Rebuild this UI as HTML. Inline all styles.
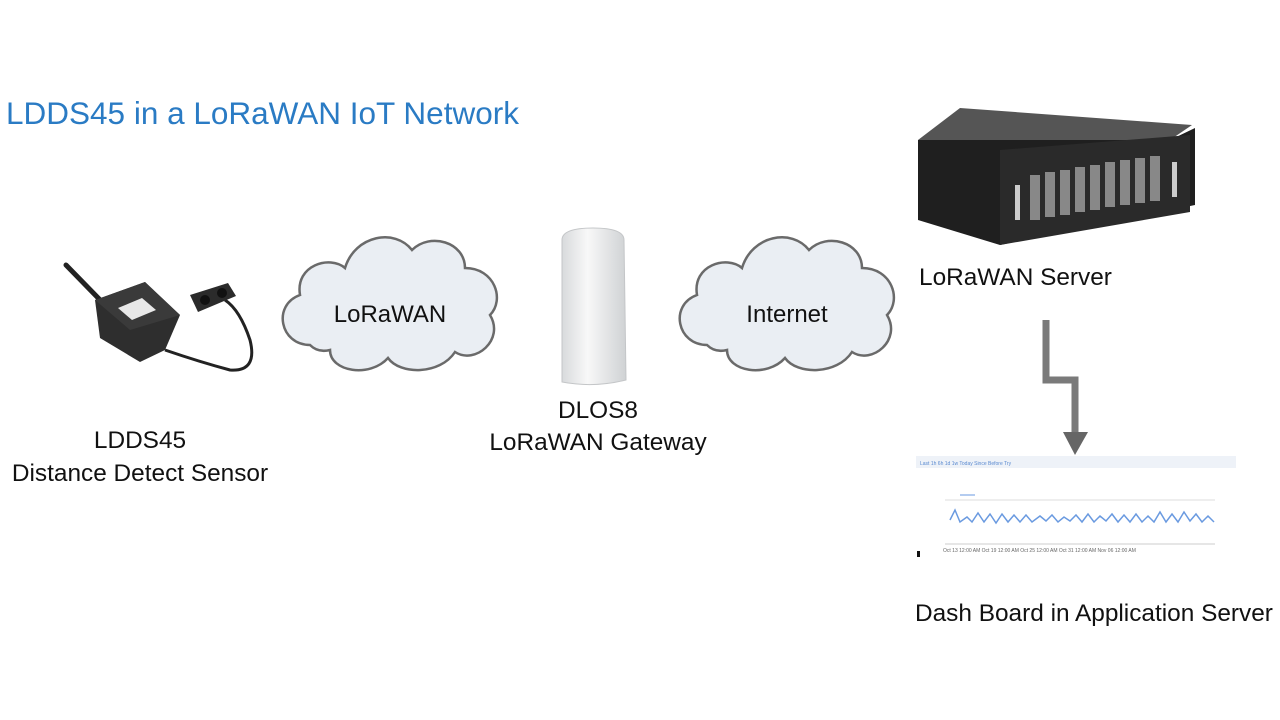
<!DOCTYPE html>
<html><head><meta charset="utf-8"><style>
body{margin:0;background:#fff;}
svg{display:block;font-family:"Liberation Sans",Arial,sans-serif;}
</style></head><body>
<svg width="1280" height="720" viewBox="0 0 1280 720">
<text x="6" y="124" font-size="31.5" fill="#2a7bc4">LDDS45 in a LoRaWAN IoT Network</text>

<!-- sensor -->
<line x1="66" y1="265" x2="105" y2="305" stroke="#222" stroke-width="5" stroke-linecap="round"/>
<polygon points="95,300 145,282 180,315 165,350 140,362 100,338" fill="#2e2e2e"/>
<polygon points="95,300 145,282 180,315 130,330" fill="#3a3a3a"/>
<polygon points="118,308 142,298 156,310 132,320" fill="#e8e8e8"/>
<path d="M165,350 Q200,362 230,370 Q258,372 250,340 Q240,310 225,300" stroke="#222" stroke-width="3" fill="none"/>
<polygon points="190,295 228,283 236,296 198,312" fill="#2b2b2b"/>
<circle cx="205" cy="300" r="5" fill="#111"/><circle cx="222" cy="293" r="5" fill="#111"/>
<text x="140" y="448" font-size="24.4" text-anchor="middle" fill="#111">LDDS45</text>
<text x="140" y="481" font-size="24.4" text-anchor="middle" fill="#111">Distance Detect Sensor</text>

<!-- clouds -->
<g fill="#eaeef3" stroke="#6a6a6a" stroke-width="2.5">
<path d="M310,345 C280,345 272,305 300,295 C295,265 330,255 345,268 C355,235 395,228 412,250 C430,232 465,242 465,268 C495,268 505,300 490,315 C505,340 475,365 455,352 C440,375 400,375 388,358 C370,378 330,372 330,350 C322,352 315,350 310,345 Z"/>
</g>
<text x="390" y="322" font-size="24" text-anchor="middle" fill="#111">LoRaWAN</text>
<g transform="translate(397,0)" fill="#eaeef3" stroke="#6a6a6a" stroke-width="2.5">
<path d="M310,345 C280,345 272,305 300,295 C295,265 330,255 345,268 C355,235 395,228 412,250 C430,232 465,242 465,268 C495,268 505,300 490,315 C505,340 475,365 455,352 C440,375 400,375 388,358 C370,378 330,372 330,350 C322,352 315,350 310,345 Z"/>
</g>
<text x="787" y="322" font-size="24" text-anchor="middle" fill="#111">Internet</text>

<!-- gateway -->
<defs><linearGradient id="g1" x1="0" x2="1"><stop offset="0" stop-color="#d8dadc"/><stop offset="0.4" stop-color="#f8f8f8"/><stop offset="1" stop-color="#cfd2d4"/></linearGradient></defs>
<path d="M562,240 Q562,228 593,228 Q624,228 624,240 L626,380 Q594,388 562,382 Z" fill="url(#g1)" stroke="#c4c6c8"/>
<text x="598" y="418" font-size="24.4" text-anchor="middle" fill="#111">DLOS8</text>
<text x="598" y="450" font-size="24.4" text-anchor="middle" fill="#111">LoRaWAN Gateway</text>

<!-- server -->
<polygon points="918,140 960,108 1192,125 1170,140" fill="#555"/>
<polygon points="918,140 1170,140 1195,128 1195,205 1000,245 918,220" fill="#1f1f1f"/>
<polygon points="1000,150 1190,135 1190,212 1000,245" fill="#2a2a2a"/>
<g fill="#888">
<rect x="1030" y="175" width="10" height="45"/><rect x="1045" y="172" width="10" height="45"/><rect x="1060" y="170" width="10" height="45"/><rect x="1075" y="167" width="10" height="45"/><rect x="1090" y="165" width="10" height="45"/><rect x="1105" y="162" width="10" height="45"/><rect x="1120" y="160" width="10" height="45"/><rect x="1135" y="158" width="10" height="45"/><rect x="1150" y="156" width="10" height="45"/>
</g>
<rect x="1015" y="185" width="5" height="35" fill="#ccc"/><rect x="1172" y="162" width="5" height="35" fill="#ccc"/>
<text x="919" y="285" font-size="24.4" fill="#111">LoRaWAN Server</text>

<!-- arrow -->
<polyline points="1046,320 1046,380 1075,380 1075,434" fill="none" stroke="#7a7a7a" stroke-width="7"/>
<polygon points="1063,432 1088,432 1075,455" fill="#666"/>

<!-- dashboard -->
<rect x="916" y="456" width="320" height="12" fill="#eef2f8"/>
<text x="920" y="465" font-size="5" fill="#5a8ad0">Last 1h 6h 1d 1w Today Since Before Try</text>
<line x1="945" y1="500" x2="1215" y2="500" stroke="#ddd"/>
<line x1="945" y1="544" x2="1215" y2="544" stroke="#ccc"/>
<line x1="960" y1="495" x2="975" y2="495" stroke="#6a9ae0"/>
<polyline points="950,520 955,510 960,522 967,517 972,522 978,513 984,522 990,514 996,523 1002,514 1008,522 1014,515 1020,522 1026,515 1032,522 1040,516 1046,521 1052,515 1058,522 1064,517 1070,521 1076,515 1082,522 1088,514 1094,522 1100,516 1106,521 1112,514 1118,522 1124,515 1130,522 1136,514 1142,522 1148,516 1154,522 1160,512 1166,522 1172,514 1178,522 1184,512 1190,521 1196,514 1202,522 1208,516 1214,522" fill="none" stroke="#6a9ae0" stroke-width="1.5"/>
<text x="943" y="552" font-size="5" fill="#666">Oct 13 12:00 AM         Oct 19 12:00 AM         Oct 25 12:00 AM         Oct 31 12:00 AM         Nov 06 12:00 AM</text>
<rect x="917" y="551" width="3" height="6" fill="#111"/>
<text x="915" y="621" font-size="24.4" fill="#111">Dash Board in Application Server</text>
</svg>
</body></html>
